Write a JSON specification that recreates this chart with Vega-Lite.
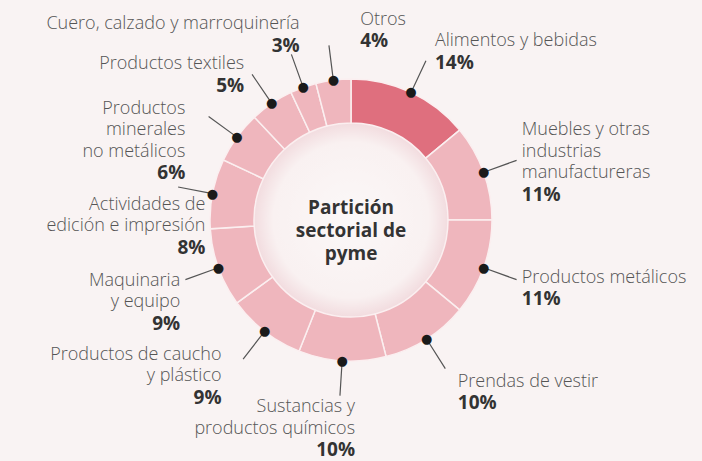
{
  "$schema": "https://vega.github.io/schema/vega-lite/v6.json",
  "width": 702,
  "height": 461,
  "autosize": {"type": "fit", "contains": "padding"},
  "padding": {"left": 0, "right": 0, "top": 0, "bottom": 11},
  "background": "#f9f3f3",
  "config": {"view": {"stroke": null}},
  "data": {
    "values": [
      {"idx": 1, "name": "Alimentos y bebidas", "share": 0.14},
      {"idx": 2, "name": "Muebles y otras|industrias|manufactureras", "share": 0.11},
      {"idx": 3, "name": "Productos metálicos", "share": 0.11},
      {"idx": 4, "name": "Prendas de vestir", "share": 0.10},
      {"idx": 5, "name": "Sustancias y|productos químicos", "share": 0.10},
      {"idx": 6, "name": "Productos de caucho|y plástico", "share": 0.09},
      {"idx": 7, "name": "Maquinaria|y equipo", "share": 0.09},
      {"idx": 8, "name": "Actividades de|edición e impresión", "share": 0.08},
      {"idx": 9, "name": "Productos|minerales|no metálicos", "share": 0.06},
      {"idx": 10, "name": "Productos textiles", "share": 0.05},
      {"idx": 11, "name": "Cuero, calzado y marroquinería", "share": 0.03},
      {"idx": 12, "name": "Otros", "share": 0.04}
    ]
  },
  "layer": [
    {
      "data": {"values": [{"k": 1}]},
      "mark": {
        "type": "arc",
        "radius": 97,
        "theta": 0,
        "theta2": 6.2832,
        "fill": {
          "gradient": "radial",
          "x1": 0.5, "y1": 0.5, "r1": 0,
          "x2": 0.5, "y2": 0.5, "r2": 0.5,
          "stops": [
            {"offset": 0, "color": "#fbf8f8"},
            {"offset": 0.8, "color": "#f9f1f1"},
            {"offset": 1, "color": "#f2dcdf"}
          ]
        }
      }
    },
    {
      "mark": {"type": "arc", "radius": 141, "radius2": 97, "stroke": "#fbeff0", "strokeWidth": 1.5},
      "encoding": {
        "theta": {"field": "share", "type": "quantitative", "stack": true},
        "order": {"field": "idx", "type": "quantitative"},
        "color": {
          "condition": {"test": "datum.idx == 1", "value": "#df6f7e"},
          "value": "#efb6bd"
        }
      }
    },
    {
      "mark": {"type": "arc", "radius": 176, "radius2": 141, "padAngle": 3, "fillOpacity": 0, "stroke": "#555555", "strokeWidth": 1.2},
      "encoding": {
        "theta": {"field": "share", "type": "quantitative", "stack": true},
        "order": {"field": "idx", "type": "quantitative"}
      }
    },
    {
      "mark": {"type": "text", "radius": 141, "font": "DejaVu Sans", "fontSize": 13, "baseline": "middle", "align": "center", "color": "#1a1a1a"},
      "encoding": {
        "theta": {"field": "share", "type": "quantitative", "stack": true},
        "order": {"field": "idx", "type": "quantitative"},
        "text": {"value": "●"}
      }
    },
    {
      "mark": {
        "type": "text",
        "radius": 190,
        "font": "Open Sans",
        "fontSize": 18,
        "fontWeight": 300,
        "lineBreak": "|",
        "lineHeight": 21.5,
        "baseline": "middle",
        "color": "#555555",
        "dx": {"expr": "[0, 3, -8, -8, 5, 16, -13, 8, 41, -12, 0, 13, 33][datum.idx]"},
        "dy": {"expr": "[0, 4, 7, 4, 12, 19, 6, 18, 42, 32.5, 12, -6, -1][datum.idx] - length(split(datum.name, '|')) * 10.75"},
        "align": {"expr": "datum.idx <= 4 || datum.idx == 12 ? 'left' : 'right'"}
      },
      "encoding": {
        "theta": {"field": "share", "type": "quantitative", "stack": true},
        "order": {"field": "idx", "type": "quantitative"},
        "text": {"field": "name", "type": "nominal"}
      }
    },
    {
      "mark": {
        "type": "text",
        "radius": 190,
        "font": "Open Sans",
        "fontSize": 19,
        "fontWeight": "bold",
        "baseline": "middle",
        "color": "#333333",
        "dx": {"expr": "[0, 3, -8, -8, 5, 16, -13, 8, 41, -12, 0, 13, 33][datum.idx]"},
        "dy": {"expr": "[0, 4, 7, 4, 12, 19, 6, 18, 42, 32.5, 12, -6, -1][datum.idx] + length(split(datum.name, '|')) * 10.75"},
        "align": {"expr": "datum.idx <= 4 || datum.idx == 12 ? 'left' : 'right'"}
      },
      "encoding": {
        "theta": {"field": "share", "type": "quantitative", "stack": true},
        "order": {"field": "idx", "type": "quantitative"},
        "text": {"field": "share", "type": "quantitative", "format": ".0%"}
      }
    },
    {
      "data": {"values": [{"t": "Partición|sectorial de|pyme"}]},
      "mark": {
        "type": "text",
        "font": "Open Sans",
        "fontSize": 19,
        "fontWeight": "bold",
        "lineBreak": "|",
        "lineHeight": 23,
        "baseline": "middle",
        "align": "center",
        "dy": -12,
        "color": "#333333"
      },
      "encoding": {"text": {"field": "t", "type": "nominal"}}
    }
  ]
}
